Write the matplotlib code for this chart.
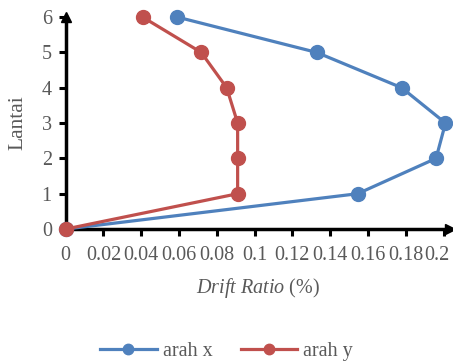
import matplotlib.pyplot as plt
import matplotlib.transforms as mtransforms
import numpy as np

plt.rcParams['font.family'] = ['Liberation Serif', 'DejaVu Serif']
plt.rcParams['mathtext.fontset'] = 'custom'
plt.rcParams['mathtext.rm'] = 'Liberation Serif'
plt.rcParams['mathtext.it'] = 'Liberation Serif:italic'

lantai = [0, 1, 2, 3, 4, 5, 6]
arah_x = [0, 0.1545, 0.196, 0.201, 0.1778, 0.1328, 0.059]
arah_y = [0, 0.091, 0.091, 0.091, 0.0852, 0.0717, 0.0407]
x_ticks = [0, 0.02, 0.04, 0.06, 0.08, 0.1, 0.12, 0.14, 0.16, 0.18, 0.2]
x_ticklabels = ['0', '0.02', '0.04', '0.06', '0.08', '0.1', '0.12', '0.14', '0.16', '0.18', '0.2']

gray = '#595959'
fs = 14.5
fig = plt.figure(figsize=(4.53, 3.63), dpi=100)
ax = fig.add_axes([0.145, 0.369, 0.848, 0.584])

ax.plot(arah_x, lantai, color='#4F81BD', lw=2.3, marker='o', ms=10, label='arah x', clip_on=False, zorder=3)
ax.plot(arah_y, lantai, color='#C0504D', lw=2.3, marker='o', ms=10, label='arah y', clip_on=False, zorder=4)

ax.set_xlim(0, 0.2033)
ax.set_ylim(0, 6.0)
ax.set_xticks(x_ticks)
ax.set_xticklabels(x_ticklabels)
ax.set_yticks(range(7))

for s in ['top', 'right']:
    ax.spines[s].set_visible(False)
for s in ['left', 'bottom']:
    ax.spines[s].set_linewidth(2.5)
    ax.spines[s].set_color('black')

# arrow heads on the axes
ax.plot(1, 0, '>k', ms=7, transform=ax.get_yaxis_transform(), clip_on=False)
ax.plot(0, 1, '^k', ms=7, transform=ax.get_xaxis_transform(), clip_on=False)

ax.tick_params(axis='both', direction='out', length=5, width=2.2, color='black',
               labelcolor=gray, labelsize=fs, pad=5)
ax.tick_params(axis='x', pad=7)

# keep the last label inside the figure, like the original
last = ax.get_xticklabels()[-1]
last.set_transform(last.get_transform() + mtransforms.ScaledTranslation(-7 / 100, 0, fig.dpi_scale_trans))

ax.set_xlabel(r'$\mathit{Drift\ Ratio}$ (%)', color=gray, fontsize=fs, labelpad=8)
ax.set_ylabel('Lantai', color=gray, fontsize=fs + 1)
ax.yaxis.set_label_coords(-0.10, 0.5)

fig.legend(loc='lower center', bbox_to_anchor=(0.5, -0.045), ncol=2, frameon=False,
           fontsize=fs, labelcolor=gray, handlelength=2.8, columnspacing=1.4,
           handletextpad=0.3, markerscale=0.75)

fig.savefig('out.png', dpi=100)
